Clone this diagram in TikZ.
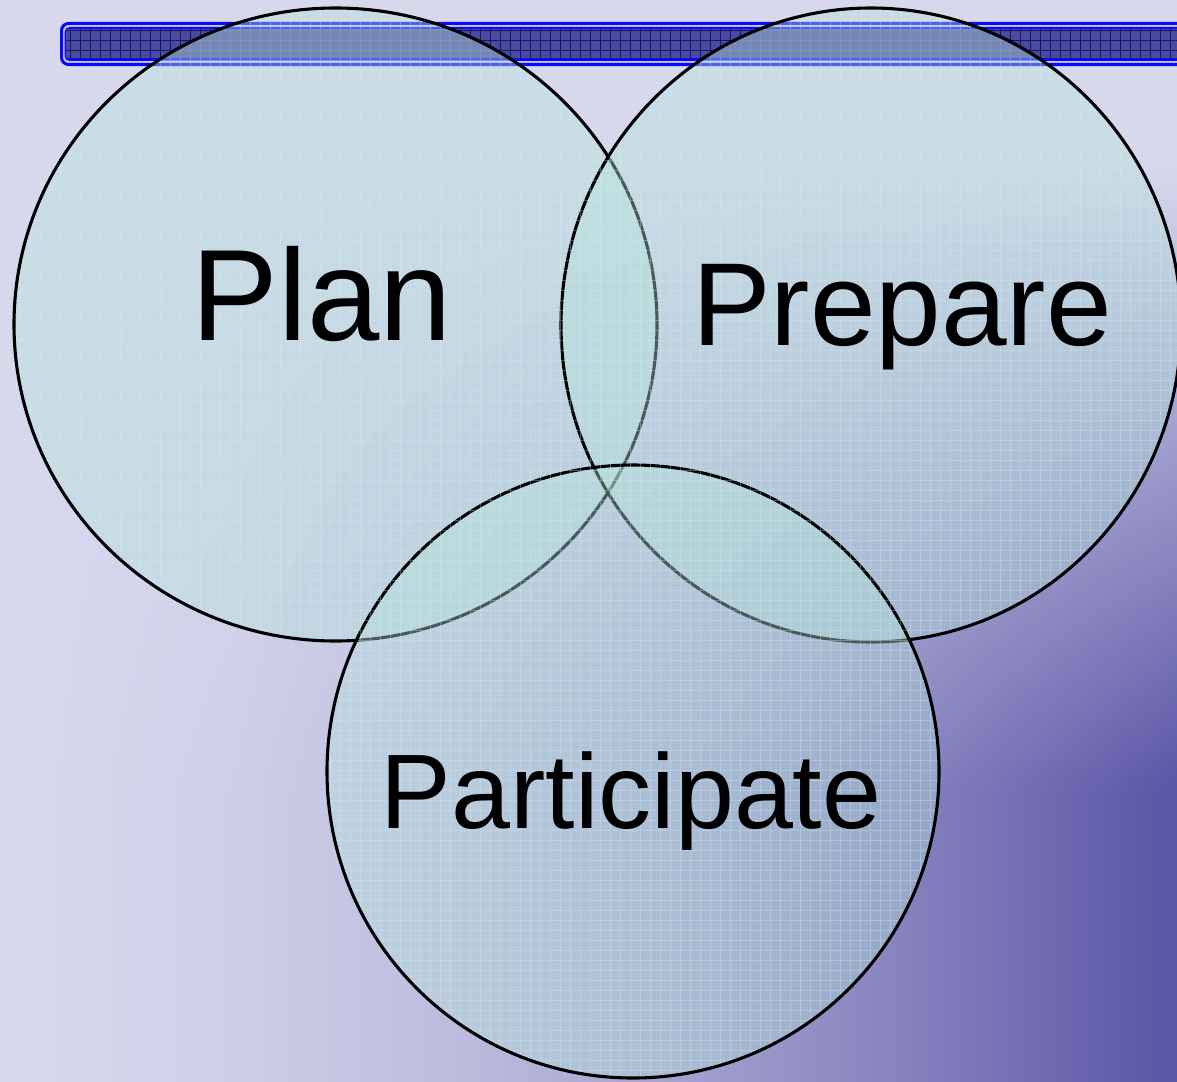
\documentclass[tikz,border=0pt]{standalone}
\usepackage{fontspec}
\setmainfont{Liberation Sans}

\definecolor{bg0}{RGB}{216,216,237}
\definecolor{bg1}{RGB}{206,206,232}
\definecolor{bg2}{RGB}{187,186,220}
\definecolor{bg3}{RGB}{161,158,205}
\definecolor{bg4}{RGB}{128,124,187}
\definecolor{bg5}{RGB}{90,85,165}
\definecolor{barblue}{RGB}{10,10,250}
\definecolor{barpale}{RGB}{200,200,240}
\definecolor{barfill}{RGB}{74,74,158}
\definecolor{bargrid}{RGB}{20,20,105}
\definecolor{vennfill}{RGB}{180,227,219}
\definecolor{venngrid}{RGB}{205,240,240}

\begin{document}
\begin{tikzpicture}[x=1pt,y=-1pt,
    venn/.style={draw=black, line width=3.1pt, fill=vennfill, fill opacity=0.4},
    word/.style={inner sep=0pt, anchor=base, text=black}]
  \useasboundingbox (0,0) rectangle (1177,1081);

  % background
  \fill[bg0] (0,0) rectangle (1177,1081);
  \foreach \ya in {160,170,...,1080} {
    \pgfmathsetmacro\vp{100*min(1,max(0,(\ya+5-160)/630))}
    \foreach \xa/\xb/\ca/\cb in {0/235.4/bg0/bg1, 235.4/470.8/bg1/bg2,
        470.8/706.2/bg2/bg3, 706.2/941.6/bg3/bg4, 941.6/1177/bg4/bg5}
      \shade[left color=\ca!\vp!bg0, right color=\cb!\vp!bg0]
        (\xa-0.5,\ya-0.5) rectangle (\xb+0.5,\ya+10.5);
  }

  % title bar
  \draw[barblue, line width=3pt, fill=barpale, rounded corners=7pt]
    (61.5,23.5) rectangle (1215,64.5);
  \fill[barblue, rounded corners=5pt] (64.5,27) rectangle (1215,61);
  \fill[barfill] (66,29.5) rectangle (1215,58.5);
  \begin{scope}
    \clip (66,29.5) rectangle (1215,58.5);
    \draw[bargrid, line width=0.8pt, step=10pt] (60,60) grid (1220,20);
  \end{scope}

  % circles
  \coordinate (plan) at (335.5,324.5);
  \coordinate (prepare) at (871,325);
  \coordinate (participate) at (633,771.5);
  \path[venn] (plan) ellipse [x radius=321.5pt, y radius=316.5pt];
  \path[venn] (prepare) ellipse [x radius=310pt, y radius=317pt];
  \path[venn] (participate) ellipse [x radius=306pt, y radius=306.5pt];
  \begin{scope}
    \clip (plan) ellipse [x radius=319.5pt, y radius=314.5pt]
      (prepare) ellipse [x radius=308pt, y radius=315pt]
      (participate) ellipse [x radius=304pt, y radius=304.5pt];
    \draw[venngrid, line width=0.8pt, opacity=0.35, step=10pt] (0,1090) grid (1180,0);
  \end{scope}

  % labels
  \node[word, font=\fontsize{130pt}{130pt}\selectfont] (plantext) at (322,340) {Plan};
  \node[word, font=\fontsize{118pt}{118pt}\selectfont] (preparetext) at (902,345) {Prepare};
  \node[word, font=\fontsize{106pt}{106pt}\selectfont] (participatetext) at (631,828) {Participate};
\end{tikzpicture}
\end{document}
